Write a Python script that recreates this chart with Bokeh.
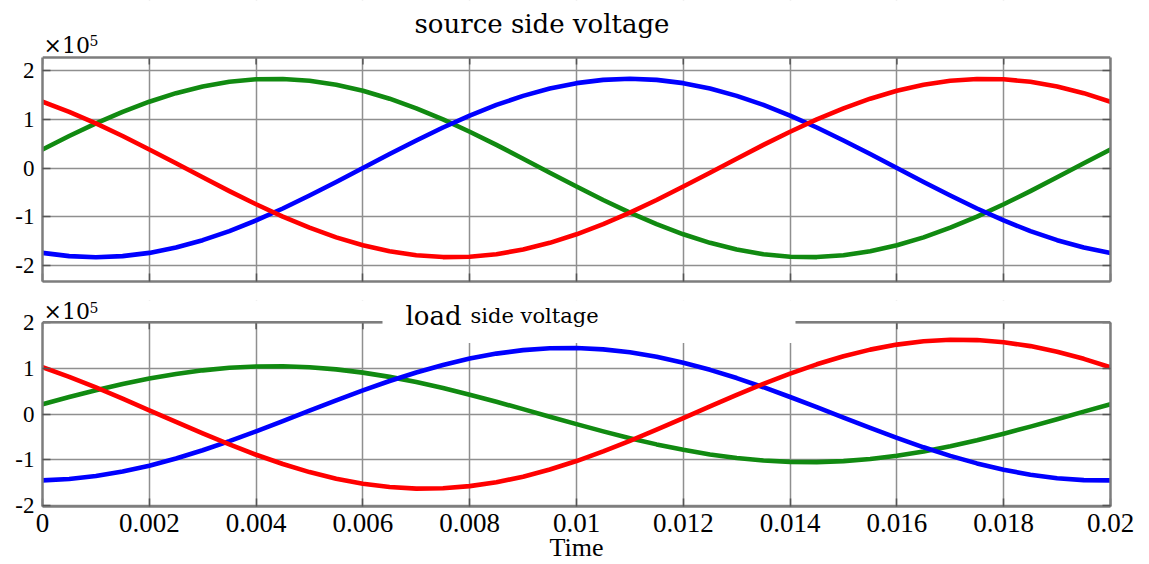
from bokeh.plotting import figure
from bokeh.models import Range1d, FixedTicker, LinearAxis, Label, BoxAnnotation, Span
from bokeh.layouts import column
from bokeh.embed import file_html
from bokeh.resources import INLINE

# ---------------- data (values in units of 1e5 V) ----------------
time_s = [0.0, 0.0005, 0.001, 0.0015, 0.002, 0.0025, 0.003, 0.0035, 0.004, 0.0045,
          0.005, 0.0055, 0.006, 0.0065, 0.007, 0.0075, 0.008, 0.0085, 0.009, 0.0095,
          0.01, 0.0105, 0.011, 0.0115, 0.012, 0.0125, 0.013, 0.0135, 0.014, 0.0145,
          0.015, 0.0155, 0.016, 0.0165, 0.017, 0.0175, 0.018, 0.0185, 0.019, 0.0195, 0.02]

src_green = [0.380, 0.656, 0.915, 1.152, 1.360, 1.535, 1.672, 1.768, 1.820, 1.827,
             1.790, 1.708, 1.585, 1.422, 1.224, 0.997, 0.744, 0.474, 0.191, -0.096,
             -0.380, -0.656, -0.915, -1.152, -1.360, -1.535, -1.672, -1.768, -1.820, -1.827,
             -1.790, -1.708, -1.585, -1.422, -1.224, -0.997, -0.744, -0.474, -0.191, 0.096, 0.380]
src_blue = [-1.741, -1.808, -1.830, -1.808, -1.741, -1.631, -1.480, -1.294, -1.076, -0.831,
            -0.565, -0.286, 0.000, 0.286, 0.565, 0.831, 1.076, 1.294, 1.480, 1.631,
            1.741, 1.808, 1.830, 1.808, 1.741, 1.631, 1.480, 1.294, 1.076, 0.831,
            0.565, 0.286, 0.000, -0.286, -0.565, -0.831, -1.076, -1.294, -1.480, -1.631, -1.741]
src_red = [1.360, 1.152, 0.915, 0.656, 0.380, 0.096, -0.191, -0.474, -0.744, -0.997,
           -1.224, -1.422, -1.585, -1.708, -1.790, -1.827, -1.820, -1.768, -1.672, -1.535,
           -1.360, -1.152, -0.915, -0.656, -0.380, -0.096, 0.191, 0.474, 0.744, 0.997,
           1.224, 1.422, 1.585, 1.708, 1.790, 1.827, 1.820, 1.768, 1.672, 1.535, 1.360]

load_green = [0.218, 0.376, 0.525, 0.661, 0.780, 0.881, 0.959, 1.014, 1.044, 1.049,
              1.027, 0.980, 0.909, 0.816, 0.703, 0.572, 0.427, 0.272, 0.110, -0.055,
              -0.218, -0.376, -0.525, -0.661, -0.780, -0.881, -0.959, -1.014, -1.044, -1.049,
              -1.027, -0.980, -0.909, -0.816, -0.703, -0.572, -0.427, -0.272, -0.110, 0.055, 0.218]
load_blue = [-1.448, -1.418, -1.354, -1.256, -1.127, -0.970, -0.790, -0.590, -0.375, -0.152,
             0.076, 0.301, 0.520, 0.725, 0.912, 1.077, 1.216, 1.325, 1.401, 1.442,
             1.448, 1.418, 1.354, 1.256, 1.127, 0.970, 0.790, 0.590, 0.375, 0.152,
             -0.076, -0.301, -0.520, -0.725, -0.912, -1.077, -1.216, -1.325, -1.401, -1.442, -1.448]
load_red = [1.026, 0.815, 0.584, 0.339, 0.085, -0.170, -0.422, -0.663, -0.888, -1.091,
            -1.267, -1.412, -1.522, -1.594, -1.628, -1.621, -1.574, -1.489, -1.367, -1.211,
            -1.026, -0.815, -0.584, -0.339, -0.085, 0.170, 0.422, 0.663, 0.888, 1.091,
            1.267, 1.412, 1.522, 1.594, 1.628, 1.621, 1.574, 1.489, 1.367, 1.211, 1.026]

x_ticks = [0.0, 0.002, 0.004, 0.006, 0.008, 0.01, 0.012, 0.014, 0.016, 0.018, 0.02]
x_tick_labels = ["0", "0.002", "0.004", "0.006", "0.008", "0.01", "0.012", "0.014",
                 "0.016", "0.018", "0.02"]
y_ticks = [-2, -1, 0, 1, 2]
y_tick_labels = ["-2", "-1", "0", "1", "2"]

title_top = "source side voltage"
title_bottom_big = "load"
title_bottom_small = "side voltage"
x_label = "Time"
scale_text = "×10"
scale_exp = "5"

GREEN = "#118a11"
BLUE = "#0000ff"
RED = "#ff0000"
FRAME = "#7d7d7d"
GRID = "#8f8f8f"
TICK = "#555555"


def style_axis(ax, ticks, bounds, labels=None, font_size="22px", standoff=8):
    ax.ticker = FixedTicker(ticks=ticks)
    ax.bounds = bounds
    ax.axis_line_color = FRAME
    ax.axis_line_width = 2.5
    ax.major_tick_in = 8
    ax.major_tick_out = 0
    ax.major_tick_line_color = TICK
    ax.major_tick_line_width = 1.5
    ax.minor_tick_line_color = None
    if labels is None:
        # tick marks only: labels are not drawn
        ax.major_label_text_color = None
        ax.major_label_text_font_size = "10px"
        ax.major_label_standoff = 0
    else:
        ax.major_label_overrides = {t: l for t, l in zip(ticks, labels)}
        ax.major_label_text_font = "Liberation Serif"
        ax.major_label_text_font_size = font_size
        ax.major_label_text_color = "black"
        ax.major_label_standoff = standoff


def make_fig(height, bottom, y_lo, y_hi, y_top, show_x_labels):
    # frame reaches the canvas top so the texts above the plot box stay inside it
    p = figure(width=1147, height=height, x_range=Range1d(0, 0.02),
               y_range=Range1d(y_lo, y_top),
               output_backend="svg", toolbar_location=None,
               min_border_left=42, min_border_right=37, min_border_top=0,
               min_border_bottom=bottom)
    p.outline_line_color = None
    p.background_fill_color = "white"
    p.border_fill_color = "white"
    style_axis(p.yaxis[0], y_ticks, (y_lo, y_hi), y_tick_labels, "23px", 8)
    if show_x_labels:
        style_axis(p.xaxis[0], x_ticks, (0, 0.02), x_tick_labels, "27px", 7)
    else:
        style_axis(p.xaxis[0], x_ticks, (0, 0.02))
    ra = LinearAxis()
    style_axis(ra, y_ticks, (y_lo, y_hi))
    p.add_layout(ra, "right")
    p.xgrid.ticker = FixedTicker(ticks=x_ticks)
    p.ygrid.ticker = FixedTicker(ticks=y_ticks)
    for g in (p.xgrid[0], p.ygrid[0]):
        g.grid_line_color = GRID
        g.grid_line_width = 1.5
        g.grid_line_alpha = 1.0
    # blank strip above the plot box (hides grid lines there)
    p.add_layout(BoxAnnotation(bottom=y_hi, top=y_top + 1, fill_color="white",
                               fill_alpha=1.0, line_color=None))
    # top edge of the plot box and its inward ticks
    p.add_layout(Span(location=y_hi, dimension="width", line_color=FRAME, line_width=2.5))
    tick_len = (y_top - y_lo) / (height - bottom) * 7
    p.segment(x0=x_ticks, x1=x_ticks, y0=[y_hi] * len(x_ticks),
              y1=[y_hi - tick_len] * len(x_ticks), line_color=TICK, line_width=1.5)
    return p


def add_lines(p, g, b, r):
    for ys, c in ((g, GREEN), (b, BLUE), (r, RED)):
        p.line(time_s, ys, line_color=c, line_width=4.6, line_join="round", line_cap="round")


def text(p, x, y, s, size, font="DejaVu Serif", align="left"):
    p.add_layout(Label(x=x, y=y, text=s, text_font=font, text_font_size=size,
                       text_align=align, text_baseline="alphabetic", text_color="black"))


# ---------------- top plot ----------------
p1 = make_fig(300, 19, -2.328, 2.267, 3.436, False)
add_lines(p1, src_green, src_blue, src_red)
text(p1, 0.009354, 2.964, title_top, "26px", align="center")
text(p1, 0.00002, 2.513, scale_text, "22px")
text(p1, 0.00088, 2.615, scale_exp, "14px")

# ---------------- bottom plot ----------------
p2 = make_fig(264, 56, -2.02, 2.01, 2.487, True)
add_lines(p2, load_green, load_blue, load_red)
p2.add_layout(BoxAnnotation(left=0.006367, right=0.014101, bottom=1.556, top=2.6,
                            fill_color="white", fill_alpha=1.0, line_color=None))
text(p2, 0.006798, 2.141, title_bottom_big, "26px")
text(p2, 0.008015, 2.141, title_bottom_small, "21px")
text(p2, 0.00002, 2.249, scale_text, "22px")
text(p2, 0.00088, 2.33, scale_exp, "14px")
xa = p2.xaxis[0]
xa.axis_label = x_label
xa.axis_label_text_font = "Liberation Serif"
xa.axis_label_text_font_size = "26px"
xa.axis_label_text_font_style = "normal"
xa.axis_label_text_color = "black"
xa.axis_label_standoff = -2

layout = column(p1, p2)
open("out.html", "w").write(file_html(layout, INLINE))
